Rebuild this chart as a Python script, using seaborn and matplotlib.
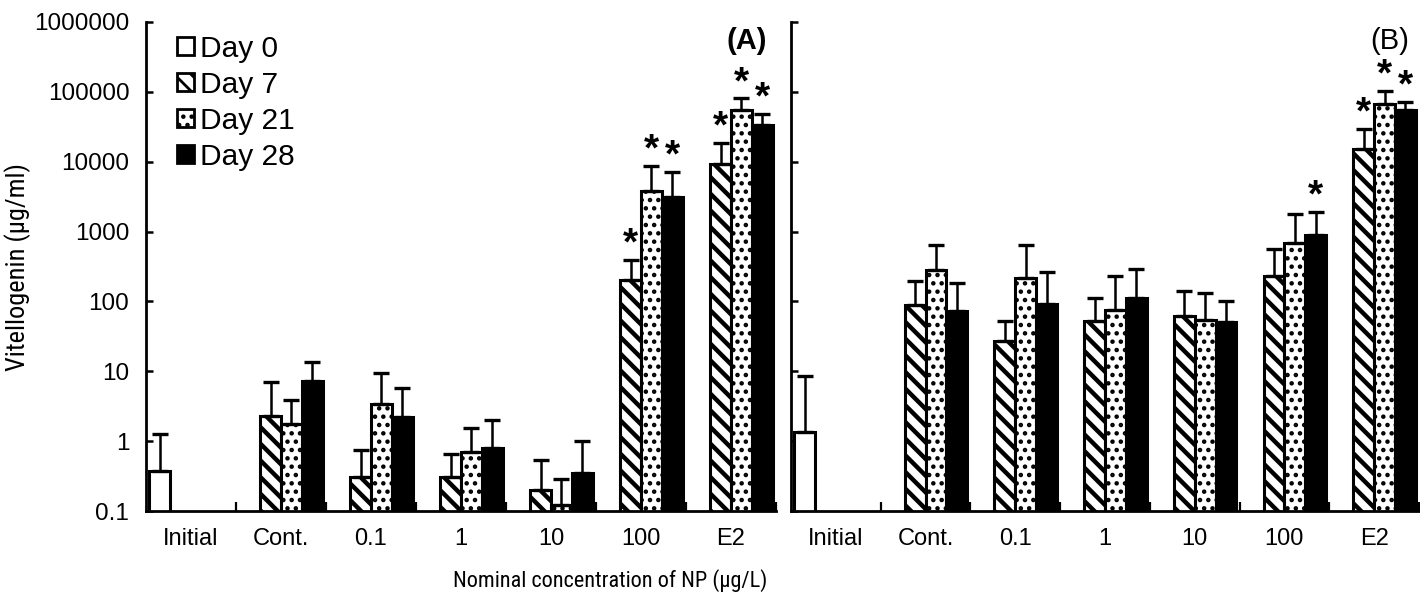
import pandas as pd
import matplotlib.pyplot as plt
import matplotlib.patches as mpatches
from matplotlib import font_manager
from matplotlib.ticker import NullLocator, FixedLocator
import seaborn as sns

# categories
groups = ['Initial', 'Cont.', '0.1', '1', '10', '100', 'E2']
treatments = ['Cont.', '0.1', '1', '10', '100', 'E2']
days = ['Day 0', 'Day 7', 'Day 21', 'Day 28']

# Panel A: mean and top of error bar (ug/ml)
a_initial = 0.37
a_initial_top = 1.27
a_day7 = [2.3, 0.31, 0.31, 0.20, 204, 9350]
a_day7_top = [7.0, 0.74, 0.65, 0.54, 398, 18600]
a_day21 = [1.74, 3.4, 0.69, 0.12, 3830, 55700]
a_day21_top = [3.9, 9.3, 1.55, 0.29, 8650, 80400]
a_day28 = [7.2, 2.2, 0.81, 0.35, 3130, 33700]
a_day28_top = [13.7, 5.8, 2.0, 1.0, 7230, 48700]
a_stars = [('100', 'Day 7'), ('100', 'Day 21'), ('100', 'Day 28'),
           ('E2', 'Day 7'), ('E2', 'Day 21'), ('E2', 'Day 28')]

# Panel B
b_initial = 1.36
b_initial_top = 8.5
b_day7 = [89, 27, 52, 62, 230, 15450]
b_day7_top = [195, 52, 112, 139, 557, 29500]
b_day21 = [285, 215, 75, 55, 695, 68000]
b_day21_top = [643, 643, 230, 132, 1800, 103000]
b_day28 = [73, 93, 112, 51, 898, 55700]
b_day28_top = [185, 263, 295, 100, 1920, 72000]
b_stars = [('100', 'Day 28'), ('E2', 'Day 7'), ('E2', 'Day 21'), ('E2', 'Day 28')]

day_colors = {'Day 0': 'white', 'Day 7': 'white', 'Day 21': 'white', 'Day 28': 'black'}
day_hatch = {'Day 0': '', 'Day 7': '\\\\', 'Day 21': '..', 'Day 28': ''}
hatch_lw = {'Day 0': 1.0, 'Day 7': 3.2, 'Day 21': 2.0, 'Day 28': 1.0}


def build_df(init, init_top, d7, d7_top, d21, d21_top, d28, d28_top):
    rows = [('Initial', 'Day 0', init, init_top)]
    for day, vals, tops in [('Day 7', d7, d7_top), ('Day 21', d21, d21_top), ('Day 28', d28, d28_top)]:
        for g, v, t in zip(treatments, vals, tops):
            rows.append((g, day, v, t))
    return pd.DataFrame(rows, columns=['group', 'day', 'value', 'top'])


df_a = build_df(a_initial, a_initial_top, a_day7, a_day7_top, a_day21, a_day21_top, a_day28, a_day28_top)
df_b = build_df(b_initial, b_initial_top, b_day7, b_day7_top, b_day21, b_day21_top, b_day28, b_day28_top)

sns.set_style('ticks')
plt.rcParams['font.family'] = ['Liberation Sans', 'DejaVu Sans']
plt.rcParams['hatch.linewidth'] = 2.0
for k in ['text.color', 'axes.labelcolor', 'xtick.color', 'ytick.color', 'axes.edgecolor']:
    plt.rcParams[k] = 'black'

# a narrow face for the axis titles, if one is installed
names = sorted({f.name for f in font_manager.fontManager.ttflist})
narrow_name = None
for cand in ['Liberation Sans Narrow', 'DejaVu Sans Condensed', 'Roboto Condensed',
             'Open Sans Condensed']:
    if cand in names:
        narrow_name = cand
        break
if narrow_name is None:
    for n in names:
        if 'Condensed' in n or 'Narrow' in n:
            narrow_name = n
            break
if narrow_name is not None:
    narrow = [narrow_name, 'Liberation Sans']
    xlab_size, ylab_size = 16, 19
else:
    narrow = ['Roboto', 'Liberation Sans']
    xlab_size, ylab_size = 14, 16

fig = plt.figure(figsize=(14.2, 5.96), dpi=100)
ax_a = fig.add_axes([0.1028, 0.1426, 0.4437, 0.8205])
ax_b = fig.add_axes([0.557, 0.1426, 0.4423, 0.8205])


def draw_panel(ax, df, stars, tag, tag_weight):
    sns.barplot(data=df, x='group', y='value', hue='day', order=groups, hue_order=days,
                palette=day_colors, edgecolor='black', linewidth=2.2, width=0.93,
                saturation=1, errorbar=None, legend=False, ax=ax)
    ax.set_yscale('log')
    lookup = {(r.group, r.day): r.top for r in df.itertuples()}
    for day, cont in zip(days, ax.containers):
        for bar in cont.patches:
            bar.set_hatch(day_hatch[day])
            if hasattr(bar, 'set_hatch_linewidth'):
                bar.set_hatch_linewidth(hatch_lw[day])
            xc = bar.get_x() + bar.get_width() / 2
            h = bar.get_height()
            g = groups[int(round(xc))]
            top = lookup[(g, day)]
            ax.errorbar([xc], [h], yerr=[[0], [top - h]], fmt='none', ecolor='black',
                        elinewidth=1.8, capsize=6, capthick=2.4)
            if (g, day) in stars:
                ax.annotate('*', (xc, top), xytext=(0, -2), textcoords='offset points',
                            ha='center', va='bottom', fontsize=28, fontweight='bold')

    ax.set_ylim(0.1, 1e6)
    ax.set_yticks([0.1, 1, 10, 100, 1000, 10000, 100000, 1000000])
    ax.set_yticklabels(['0.1', '1', '10', '100', '1000', '10000', '100000', '1000000'])
    ax.yaxis.set_minor_locator(NullLocator())
    ax.set_xlim(-0.5, 6.5)
    ax.xaxis.set_minor_locator(FixedLocator([0.5, 1.5, 2.5, 3.5, 4.5, 5.5, 6.5]))
    ax.tick_params(axis='x', which='major', length=0, pad=12, labelsize=17)
    ax.tick_params(axis='x', which='minor', direction='in', length=6.5, width=1.6)
    ax.tick_params(axis='y', which='major', direction='in', length=5, width=1.8,
                   pad=12, labelsize=17.5)
    ax.set_xlabel('')
    ax.set_ylabel('')
    sns.despine(ax=ax)
    for s in ['left', 'bottom']:
        ax.spines[s].set_linewidth(2.0)
    ax.text(0.985, 0.99, tag, transform=ax.transAxes, ha='right', va='top',
            fontsize=21, fontweight=tag_weight)


draw_panel(ax_a, df_a, a_stars, '(A)', 'bold')
draw_panel(ax_b, df_b, b_stars, '(B)', 'normal')
ax_b.tick_params(axis='y', labelleft=False)

ax_a.set_ylabel('Vitellogenin (\u03bcg/ml)', fontsize=ylab_size, family=narrow, labelpad=2)

handles = []
for day in days:
    p = mpatches.Patch(facecolor=day_colors[day], edgecolor='black', hatch=day_hatch[day],
                       linewidth=2.0, label=day)
    handles.append(p)
ax_a.legend(handles=handles, loc='upper left', bbox_to_anchor=(0.05, 0.974), frameon=False,
            fontsize=21.5, handlelength=0.55, handleheight=0.55, handletextpad=0.2,
            labelspacing=0.27, borderpad=0, borderaxespad=0)

fig.text(610 / 1420, 1 - 581 / 596, 'Nominal concentration of NP (\u03bcg/L)',
         ha='center', va='center', fontsize=xlab_size, family=narrow)

fig.savefig('out.png', dpi=100)
